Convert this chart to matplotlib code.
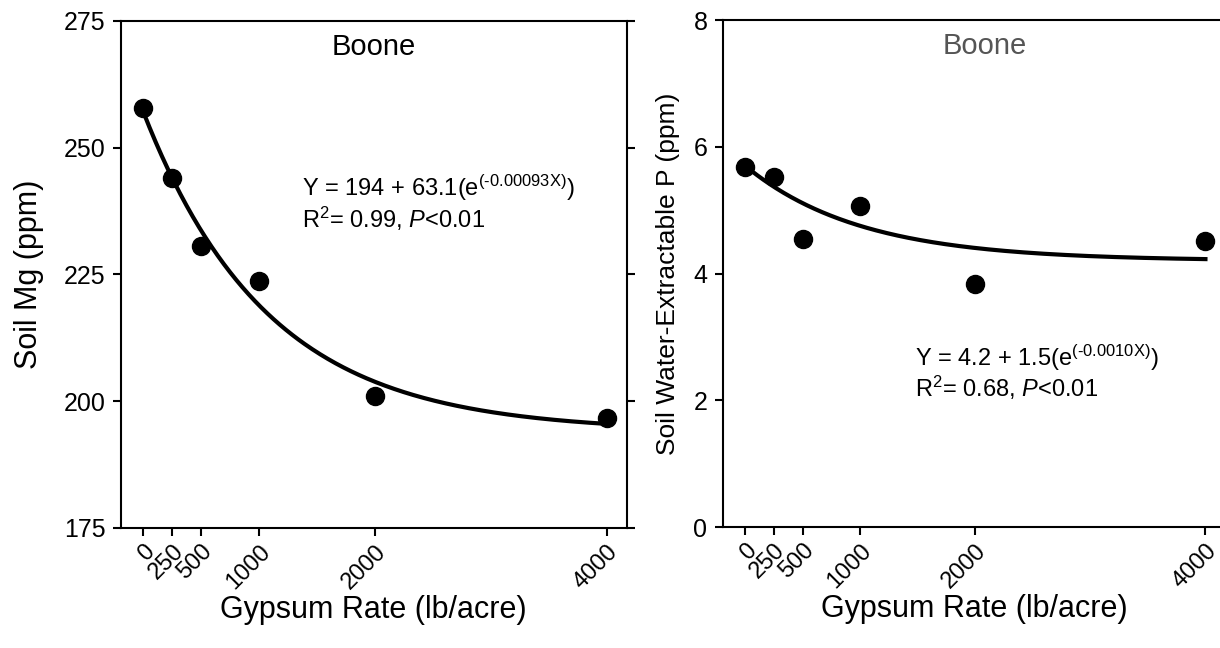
import numpy as np
import matplotlib.pyplot as plt

plt.rcParams['font.family'] = ['Liberation Sans', 'DejaVu Sans']
plt.rcParams['mathtext.fontset'] = 'custom'
plt.rcParams['mathtext.rm'] = 'Liberation Sans'
plt.rcParams['mathtext.it'] = 'Liberation Sans:italic'

# gypsum rates (lb/acre)
rates = [0, 250, 500, 1000, 2000, 4000]
rate_labels = ['0', '250', '500', '1000', '2000', '4000']

# soil Mg (ppm) and water-extractable P (ppm)
soil_mg = [257.8, 244.1, 230.6, 223.8, 201.0, 196.6]
soil_p = [5.68, 5.53, 4.54, 5.07, 3.84, 4.51]

# fitted exponential decay: y = a + b * exp(-k x)
mg_fit = (194, 63.1, 0.00093)
p_fit = (4.2, 1.5, 0.0010)

fig = plt.figure(figsize=(12.2, 6.48), dpi=100)
ax1 = fig.add_axes([0.0989, 0.1852, 0.4148, 0.7824])
ax2 = fig.add_axes([0.5924, 0.1867, 0.4117, 0.7824])

xs = np.linspace(0, 4000, 300)


def style(ax):
    ax.set_xlim(-195, 4170)
    ax.set_xticks(rates)
    ax.set_xticklabels(rate_labels, rotation=45, ha='right', va='top',
                       rotation_mode='anchor')
    ax.tick_params(axis='both', direction='out', length=6, width=1.5,
                   labelsize=18, pad=5)
    ax.tick_params(axis='x', labelsize=17, pad=3)
    ax.tick_params(axis='y', right=True)
    for s in ax.spines.values():
        s.set_linewidth(1.5)
    ax.set_xlabel('Gypsum Rate (lb/acre)', fontsize=22, labelpad=1)


# Soil Mg
a, b, k = mg_fit
ax1.plot(xs, a + b * np.exp(-k * xs), color='black', lw=3)
ax1.plot(rates, soil_mg, 'o', color='black', ms=13, zorder=3)
ax1.set_ylim(175, 275)
ax1.set_yticks([175, 200, 225, 250, 275])
style(ax1)
ax1.set_ylabel('Soil Mg (ppm)', fontsize=22, labelpad=14)
ax1.text(0.5, 0.948, 'Boone', transform=ax1.transAxes, ha='center', va='center',
         fontsize=21, color='black')
# U+2010 hyphen keeps the exponent sign a short dash
ax1.text(1370, 242, 'Y = 194 + 63.1(e$^{\\mathregular{(\u20100.00093X)}}$)',
         fontsize=17, va='center')
ax1.text(1370, 236, 'R$^{\\mathregular{2}}$= 0.99, $P$<0.01',
         fontsize=17, va='center')

# Water-extractable P
a, b, k = p_fit
ax2.plot(xs, a + b * np.exp(-k * xs), color='black', lw=3)
ax2.plot(rates, soil_p, 'o', color='black', ms=13, zorder=3)
ax2.set_ylim(0, 8)
ax2.set_yticks([0, 2, 4, 6, 8])
style(ax2)
ax2.set_ylabel('Soil Water-Extractable P (ppm)', fontsize=19, labelpad=10)
ax2.text(0.522, 0.948, 'Boone', transform=ax2.transAxes, ha='center', va='center',
         fontsize=21, color='#555555')
ax2.text(1480, 2.67, 'Y = 4.2 + 1.5(e$^{\\mathregular{(\u20100.0010X)}}$)',
         fontsize=17, va='center')
ax2.text(1480, 2.2, 'R$^{\\mathregular{2}}$= 0.68, $P$<0.01',
         fontsize=17, va='center')

fig.savefig('out.png', dpi=100)
